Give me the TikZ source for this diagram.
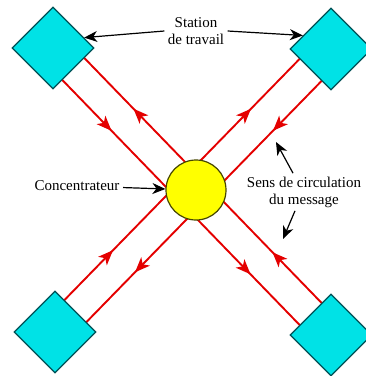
\documentclass[tikz,border=0pt]{standalone}
\usepackage{fontspec}
\setmainfont{Liberation Serif}
\usetikzlibrary{arrows.meta,backgrounds,calc,decorations.markings,shapes.geometric}

\definecolor{stationcyan}{RGB}{0,226,230}
\definecolor{stationborder}{RGB}{0,80,85}
\definecolor{hubyellow}{RGB}{255,255,0}
\definecolor{hubborder}{RGB}{70,70,0}
\definecolor{msgred}{RGB}{228,0,0}

\tikzset{
  station/.style={diamond, draw=stationborder, line width=1.3pt, fill=stationcyan,
    minimum width=82pt, minimum height=82pt, inner sep=0pt},
  msgline/.style={msgred, line width=1.9pt, postaction={decorate},
    decoration={markings,
      mark=at position 0.25 with {\arrow{Stealth[length=15pt,width=12pt,inset=4pt]}},
      mark=at position 0.75 with {\arrow{Stealth[length=15pt,width=12pt,inset=4pt]}}}},
  callout/.style={black, line width=1.2pt, -{Stealth[length=13pt,width=11pt,inset=4pt]}}
}

\begin{document}
\begin{tikzpicture}[x=1pt, y=-1pt, every node/.style={font=\fontsize{15}{17}\selectfont}]
    \useasboundingbox (0,0) rectangle (366,376);

    % stations and hub
    \node[station] (tl) at (53,48) {};
    \node[station] (tr) at (331,49) {};
    \node[station] (bl) at (55,332) {};
    \node[station] (br) at (331,335) {};
    \node[circle, draw=hubborder, line width=1.2pt, fill=hubyellow,
      minimum size=60pt, inner sep=0pt] (hub) at (196,190) {};

    % message lines
    \begin{scope}[on background layer]
        \draw[msgline] ([xshift=-11pt,yshift=-11pt]tl.center) -- ([xshift=-11pt,yshift=-11pt]br.center);
        \draw[msgline] ([xshift=11pt,yshift=11pt]br.center) -- ([xshift=11pt,yshift=11pt]tl.center);
        \draw[msgline] ([xshift=-11pt,yshift=11pt]bl.center) -- ([xshift=-11pt,yshift=11pt]tr.center);
        \draw[msgline] ([xshift=11pt,yshift=-11pt]tr.center) -- ([xshift=11pt,yshift=-11pt]bl.center);
    \end{scope}

    % labels
    \node[align=center] (station) at (196,31) {Station\\de travail};
    \draw[callout] (station.west) -- ($(tl.north east)!0.5!(tl.east)$);
    \draw[callout] (station.east) -- ($(tr.north west)!0.35!(tr.west)$);

    \node (conc) at (77,186) {Concentrateur};
    \draw[callout] (conc) -- (hub);

    \node[align=center] (sens) at (304,192) {Sens de circulation\\du message};
    \coordinate (sensA) at (276,142);
    \coordinate (sensB) at (283,239);
    \draw[callout] ([xshift=-11pt]sens.north) -- (sensA);
    \draw[callout] ([xshift=-9pt]sens.south) -- (sensB);
\end{tikzpicture}
\end{document}
